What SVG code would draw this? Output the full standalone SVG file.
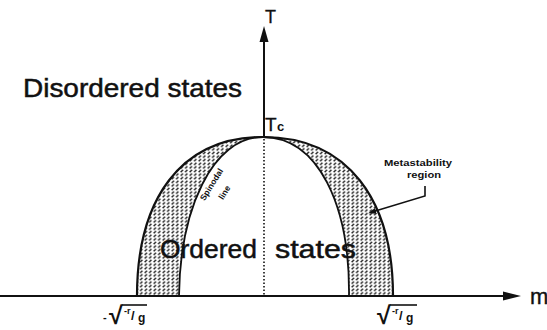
<svg xmlns="http://www.w3.org/2000/svg" width="547" height="330" viewBox="0 0 547 330">
<style>
.lab{font-family:"Liberation Sans",Arial,sans-serif;fill:#111}
.big{font-size:26px;stroke:#111;stroke-width:0.5}
.bold{font-weight:bold}
.curve{fill:none;stroke:#111;stroke-width:2.2}
.inner{fill:none;stroke:#111;stroke-width:1.8}
.band{fill:url(#hatch);stroke:none}
.axis{stroke:#111;stroke-width:2;fill:none}
</style>
<defs>
<pattern id="hatch" width="4.5" height="3.6" patternUnits="userSpaceOnUse">
<rect width="4.5" height="3.6" fill="#fff"/>
<line x1="0.6" y1="3" x2="3" y2="0.6" stroke="#111" stroke-width="1.3"/>
</pattern>
<marker id="dot" markerWidth="8" markerHeight="8" refX="4" refY="4" orient="auto" markerUnits="userSpaceOnUse">
<path d="M0,1 L8,4 L0,7 Z" fill="#111"/>
</marker>
</defs>
<rect width="547" height="330" fill="#fff"/>

<g id="metastable-left">
<path class="band" d="M137,296 C137,200 180,137 263,137 C212,137 180,210 179,296 Z"/>
</g>
<g id="metastable-right">
<path class="band" d="M263,137 C348,137 393,200 393,296 L349,296 C350,205 318,137 263,137 Z"/>
</g>
<g id="binodal">
<path class="curve" d="M137,296 C137,200 180,137 263,137 C348,137 393,200 393,296"/>
</g>
<g id="spinodal">
<path class="inner" d="M179,296 C180,210 212,137 263,137 C318,137 350,205 349,296"/>
</g>

<g id="connectors">
<line class="axis" x1="0" y1="296" x2="506" y2="296"/>
<polygon points="521,296 503,291.5 503,300.5" fill="#111"/>
<line class="axis" x1="264" y1="40" x2="264" y2="137"/>
<polygon points="264,26 259.5,42 268.5,42" fill="#111"/>
<line x1="264" y1="139" x2="264" y2="296" stroke="#111" stroke-width="1.6" stroke-dasharray="1.6 1.9"/>
<polyline points="425,186 425,196 372,212" fill="none" stroke="#111" stroke-width="1.6" marker-end="url(#dot)"/>
</g>

<g id="axis-labels">
<text class="lab" x="265" y="23" font-size="18" stroke="#111" stroke-width="0.3">T</text>
<text class="lab" x="530" y="304" font-size="22" stroke="#111" stroke-width="0.4">m</text>
<text class="lab" x="265" y="131" font-size="19" stroke="#111" stroke-width="0.3">T</text>
<text class="lab" x="277" y="131" font-size="13" font-weight="bold">c</text>
</g>

<g id="disordered">
<text class="lab big" x="23" y="97" textLength="219" lengthAdjust="spacingAndGlyphs">Disordered states</text>
</g>
<g id="ordered">
<text class="lab big" x="160" y="258" textLength="97" lengthAdjust="spacingAndGlyphs">Ordered</text>
<text class="lab big" x="275" y="258" textLength="81" lengthAdjust="spacingAndGlyphs">states</text>
</g>

<g id="metastability-label">
<text class="lab bold" x="418" y="166" font-size="9" text-anchor="middle" textLength="68" lengthAdjust="spacingAndGlyphs">Metastability</text>
<text class="lab bold" x="424" y="178" font-size="9" text-anchor="middle" textLength="34" lengthAdjust="spacingAndGlyphs">region</text>
</g>

<g id="spinodal-label">
<text class="lab bold" font-size="8.5" text-anchor="middle" transform="translate(214,186) rotate(-58)">Spinodal</text>
<text class="lab bold" font-size="8.5" text-anchor="middle" transform="translate(227,194) rotate(-58)">line</text>
</g>

<g id="tick-left">
<text class="lab bold" x="103" y="321" font-size="11">-</text>
<text class="lab bold" x="109" y="324" font-size="25">√</text>
<line x1="122" y1="305" x2="147" y2="305" stroke="#111" stroke-width="1.6"/>
<text class="lab bold" x="124" y="314" font-size="9">-r</text>
<text class="lab bold" x="131" y="320" font-size="13">/</text>
<text class="lab bold" x="138" y="322" font-size="12">g</text>
</g>
<g id="tick-right">
<text class="lab bold" x="377" y="324" font-size="25">√</text>
<line x1="390" y1="305" x2="417" y2="305" stroke="#111" stroke-width="1.6"/>
<text class="lab bold" x="392" y="314" font-size="9">-r</text>
<text class="lab bold" x="399" y="320" font-size="13">/</text>
<text class="lab bold" x="406" y="322" font-size="12">g</text>
</g>
</svg>
